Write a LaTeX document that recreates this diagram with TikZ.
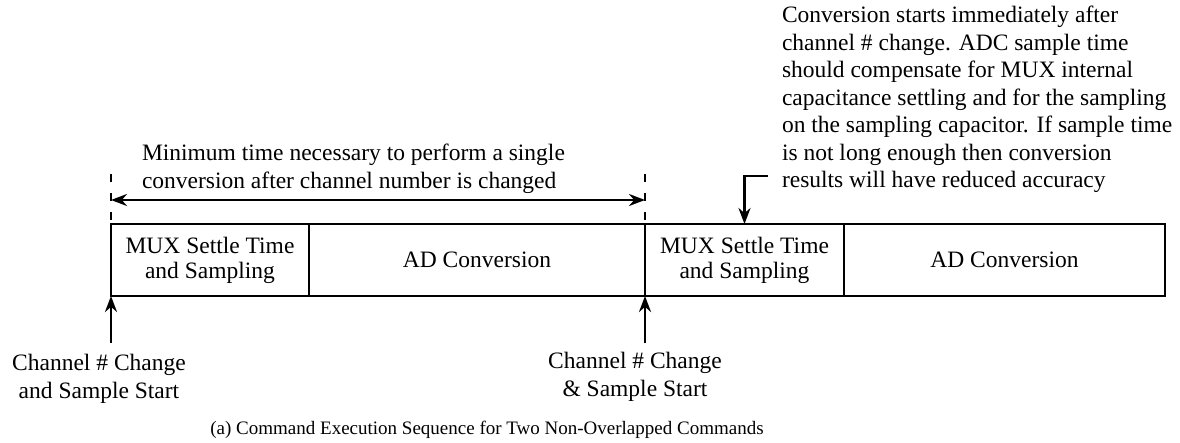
\documentclass[tikz,border=0pt]{standalone}
\usepackage{fontspec}
\setmainfont{Liberation Serif}
\usetikzlibrary{arrows.meta}
\tikzset{
  txt/.style={font=\fontsize{23.5}{27.5}\selectfont,inner sep=0pt,outer sep=0pt},
  cell/.style={txt,draw,minimum height=72pt,align=center,font=\fontsize{23.5}{25}\selectfont},
  tick/.style={dash pattern=on 8pt off 11pt}
}
\begin{document}
\begin{tikzpicture}[x=1pt,y=-1pt,line width=2.6pt,>={Stealth[length=16pt,width=12pt]}]
\useasboundingbox (0,0) rectangle (1180,442);
\node[cell,minimum width=198pt](mux1) at (210,260){MUX Settle Time\\and Sampling};
\node[cell,minimum width=336pt](ad1) at (477,260){AD Conversion};
\node[cell,minimum width=199pt](mux2) at (744.5,260){MUX Settle Time\\and Sampling};
\node[cell,minimum width=321pt](ad2) at (1004.5,260){AD Conversion};

\coordinate (t1) at (111,174);
\coordinate (t2) at (645,174);
\draw[tick](t1)--(mux1.north west);
\draw[tick](t2)--(mux2.north west);
\draw[<->](mux1.north west|-0,200)--(mux2.north west|-0,200);
\node[txt,align=left,anchor=north west](span) at (142,144){Minimum time necessary to perform a single\\conversion after channel number is changed};

\node[txt,align=left,anchor=north west](note) at (782,6){Conversion starts immediately after\\channel \# change. ADC sample time\\should compensate for MUX internal\\capacitance settling and for the sampling\\on the sampling capacitor. If sample time\\is not long enough then conversion\\results will have reduced accuracy};
\coordinate (n1) at (768,176);
\draw[->](n1)-|(mux2.north);

\node[txt,align=center](chg1) at (99,379){Channel \# Change\\and Sample Start};
\node[txt,align=center](chg2) at (635,377){Channel \# Change\\\& Sample Start};
\coordinate (b1) at (111,343);
\coordinate (b2) at (645,343);
\draw[->](b1)--(mux1.south west);
\draw[->](b2)--(mux2.south west);

\node[txt,font=\fontsize{19}{23}\selectfont](cap) at (487,430){(a) Command Execution Sequence for Two Non-Overlapped Commands};
\end{tikzpicture}
\end{document}
